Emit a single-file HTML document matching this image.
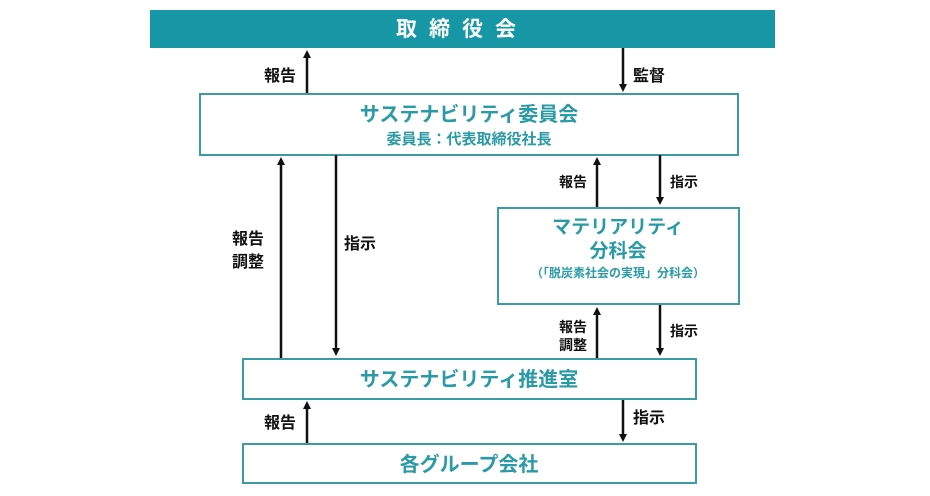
<!DOCTYPE html>
<html><head><meta charset="utf-8">
<style>
html,body{margin:0;padding:0;background:#fff;}
svg{display:block;}
text{font-family:"Liberation Sans","Noto Sans CJK JP",sans-serif;font-weight:bold;}
.t{fill:#2a9aa6;}
.k{fill:#111;}
</style></head><body>
<svg width="930" height="496" viewBox="0 0 930 496" xmlns="http://www.w3.org/2000/svg">
<defs>
<marker id="a" markerWidth="8" markerHeight="8" refX="4" refY="4" orient="auto" markerUnits="userSpaceOnUse">
<path d="M0,0 L8,4 L0,8 z" fill="#111"/>
</marker>
</defs>
<rect x="150" y="10" width="625" height="38" fill="#1797a6"/>
<text x="462" y="36" text-anchor="middle" fill="#fff" font-size="21" letter-spacing="12">取締役会</text>

<rect x="200" y="94" width="538" height="61" fill="#fff" stroke="#3c9aa5" stroke-width="2"/>
<text class="t" x="469" y="121" text-anchor="middle" font-size="20">サステナビリティ委員会</text>
<text class="t" x="469" y="144" text-anchor="middle" font-size="15">委員長：代表取締役社長</text>

<rect x="498" y="208" width="241" height="96" fill="#fff" stroke="#3c9aa5" stroke-width="2"/>
<text class="t" x="618" y="233" text-anchor="middle" font-size="19">マテリアリティ</text>
<text class="t" x="618" y="257" text-anchor="middle" font-size="19">分科会</text>
<text class="t" x="618" y="277" text-anchor="middle" font-size="12">（「脱炭素社会の実現」分科会）</text>

<rect x="243" y="359" width="453" height="40" fill="#fff" stroke="#3c9aa5" stroke-width="2"/>
<text class="t" x="469" y="386" text-anchor="middle" font-size="20">サステナビリティ推進室</text>

<rect x="243" y="444" width="453" height="39" fill="#fff" stroke="#3c9aa5" stroke-width="2"/>
<text class="t" x="469" y="471" text-anchor="middle" font-size="20">各グループ会社</text>

<g stroke="#111" stroke-width="2.5" fill="none">
<line x1="307" y1="93" x2="307" y2="54" marker-end="url(#a)"/>
<line x1="623" y1="48" x2="623" y2="88" marker-end="url(#a)"/>
<line x1="281" y1="358" x2="281" y2="161" marker-end="url(#a)"/>
<line x1="336" y1="155" x2="336" y2="352" marker-end="url(#a)"/>
<line x1="597" y1="207" x2="597" y2="161" marker-end="url(#a)"/>
<line x1="660" y1="155" x2="660" y2="201" marker-end="url(#a)"/>
<line x1="597" y1="358" x2="597" y2="311" marker-end="url(#a)"/>
<line x1="660" y1="305" x2="660" y2="352" marker-end="url(#a)"/>
<line x1="307" y1="443" x2="307" y2="405" marker-end="url(#a)"/>
<line x1="623" y1="400" x2="623" y2="438" marker-end="url(#a)"/>
</g>

<text class="k" x="264" y="81" font-size="16">報告</text>
<text class="k" x="633" y="81" font-size="16">監督</text>
<text class="k" x="232" y="244" font-size="16">報告</text>
<text class="k" x="232" y="267" font-size="16">調整</text>
<text class="k" x="344" y="249" font-size="16">指示</text>
<text class="k" x="559" y="187" font-size="14">報告</text>
<text class="k" x="670" y="187" font-size="14">指示</text>
<text class="k" x="559" y="332" font-size="14">報告</text>
<text class="k" x="559" y="350" font-size="14">調整</text>
<text class="k" x="670" y="336" font-size="14">指示</text>
<text class="k" x="264" y="428" font-size="16">報告</text>
<text class="k" x="633" y="423" font-size="16">指示</text>
</svg>
</body></html>
